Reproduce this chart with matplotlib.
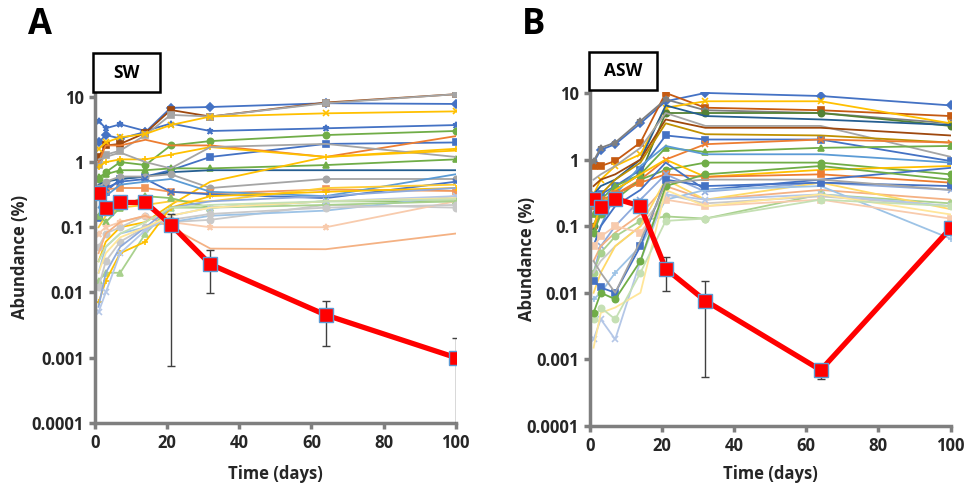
import matplotlib
matplotlib.use("Agg")
import matplotlib.pyplot as plt
from matplotlib.patches import Rectangle
import numpy as np

plt.rcParams['font.family'] = ['Open Sans', 'DejaVu Sans']

# ---------------- data ----------------
times = [1, 3, 7, 14, 21, 32, 64, 100]
x_ticks = [0, 20, 40, 60, 80, 100]
y_ticks = [0.0001, 0.001, 0.01, 0.1, 1, 10]
y_tick_labels = ["0.0001", "0.001", "0.01", "0.1", "1", "10"]

# Panel A (SW) background taxa
sw_series = [
    [4.3, 3.3, 3.8, 3.0, 3.9, 3.0, 3.3, 3.7],
    [2.0, 2.6, 2.3, 2.9, 6.8, 7.0, 8.0, 7.8],
    [1.2, 1.8, 1.9, 2.8, 6.3, 5.0, 8.2, 11.0],
    [0.9, 1.3, 1.5, 2.6, 5.3, 5.0, 8.0, 11.0],
    [1.6, 2.0, 2.4, 2.7, 3.7, 5.0, 5.6, 6.0],
    [0.55, 0.7, 1.0, 0.9, 1.8, 2.1, 2.6, 3.0],
    [0.14, 0.35, 0.55, 0.6, 0.75, 1.2, 1.9, 2.0],
    [1.0, 1.8, 1.8, 2.2, 1.8, 1.8, 1.2, 2.5],
    [0.85, 1.0, 1.1, 1.1, 1.3, 1.7, 1.2, 1.6],
    [0.6, 0.65, 0.75, 0.75, 0.8, 0.8, 0.9, 1.1],
    [1.1, 1.2, 1.4, 1.0, 0.8, 1.7, 1.9, 1.2],
    [0.45, 0.5, 0.55, 0.6, 0.7, 0.75, 0.75, 0.75],
    [0.4, 0.5, 0.6, 0.6, 0.65, 0.4, 0.55, 0.55],
    [0.3, 0.38, 0.4, 0.4, 0.35, 0.33, 0.38, 0.36],
    [0.03, 0.06, 0.1, 0.12, 0.22, 0.5, 1.2, 1.5],
    [0.35, 0.4, 0.5, 0.55, 0.35, 0.32, 0.28, 0.5],
    [0.2, 0.3, 0.45, 0.5, 0.55, 0.35, 0.3, 0.65],
    [0.1, 0.15, 0.2, 0.22, 0.25, 0.25, 0.4, 0.45],
    [0.15, 0.12, 0.2, 0.3, 0.28, 0.2, 0.25, 0.25],
    [0.05, 0.08, 0.1, 0.15, 0.12, 0.13, 0.22, 0.2],
    [0.02, 0.05, 0.08, 0.1, 0.12, 0.15, 0.18, 0.3],
    [0.08, 0.1, 0.12, 0.15, 0.12, 0.1, 0.1, 0.25],
    [0.04, 0.08, 0.12, 0.15, 0.1, 0.047, 0.046, 0.08],
    [0.015, 0.02, 0.02, 0.08, 0.2, 0.2, 0.22, 0.25],
    [0.012, 0.03, 0.06, 0.1, 0.13, 0.16, 0.2, 0.22],
    [0.007, 0.015, 0.04, 0.06, 0.2, 0.3, 0.35, 0.4],
    [0.006, 0.02, 0.05, 0.1, 0.2, 0.25, 0.3, 0.4],
    [0.005, 0.01, 0.04, 0.09, 0.15, 0.2, 0.25, 0.3],
    [0.02, 0.04, 0.07, 0.1, 0.15, 0.2, 0.25, 0.28],
    [0.03, 0.05, 0.08, 0.12, 0.2, 0.22, 0.25, 0.27],
]

# Panel B (ASW) background taxa
asw_series = [
    [0.9, 1.4, 1.7, 3.5, 7.5, 10, 9, 6.5],
    [0.8, 0.8, 0.95, 1.8, 10, 6, 5.5, 4.5],
    [0.95, 1.5, 1.8, 3.8, 8, 5.5, 5.0, 3.5],
    [0.3, 0.5, 0.8, 1.2, 6, 7.5, 7.5, 3.5],
    [0.1, 0.2, 0.35, 0.6, 5, 5, 5, 3.2],
    [0.3, 0.4, 0.5, 1.0, 6.5, 4.5, 4.0, 3.3],
    [0.5, 0.6, 0.8, 1.5, 5, 3.2, 3.2, 1.1],
    [0.4, 0.5, 0.6, 1.0, 4, 3.0, 3.0, 2.3],
    [0.2, 0.3, 0.4, 0.7, 2.3, 2.0, 2.0, 0.95],
    [0.2, 0.3, 0.5, 0.9, 3.5, 2.4, 2.3, 1.8],
    [0.1, 0.15, 0.3, 0.5, 1.0, 1.7, 2.0, 1.8],
    [0.15, 0.25, 0.4, 0.6, 1.5, 1.3, 1.5, 1.6],
    [0.05, 0.1, 0.3, 0.8, 1.6, 1.2, 1.2, 0.9],
    [0.08, 0.15, 0.25, 0.5, 0.7, 0.9, 0.9, 0.6],
    [0.1, 0.2, 0.35, 0.6, 1.0, 0.55, 0.7, 0.8],
    [0.2, 0.25, 0.3, 0.45, 0.6, 0.55, 0.6, 0.45],
    [0.05, 0.1, 0.2, 0.35, 0.9, 0.35, 0.5, 0.75],
    [0.02, 0.05, 0.1, 0.25, 0.6, 0.33, 0.45, 0.35],
    [0.03, 0.05, 0.08, 0.15, 0.4, 0.25, 0.35, 0.25],
    [0.02, 0.04, 0.07, 0.12, 0.14, 0.13, 0.3, 0.22],
    [0.02, 0.03, 0.05, 0.1, 0.3, 0.22, 0.28, 0.2],
    [0.01, 0.02, 0.05, 0.1, 0.5, 0.25, 0.45, 0.18],
    [0.008, 0.01, 0.02, 0.05, 0.25, 0.35, 0.4, 0.065],
    [0.05, 0.07, 0.1, 0.08, 0.25, 0.2, 0.25, 0.13],
    [0.002, 0.004, 0.002, 0.03, 0.3, 0.25, 0.3, 0.2],
    [0.0015, 0.005, 0.006, 0.01, 0.35, 0.2, 0.3, 0.15],
    [0.004, 0.006, 0.004, 0.02, 0.12, 0.13, 0.25, 0.2],
    [0.015, 0.012, 0.01, 0.05, 0.5, 0.4, 0.45, 0.4],
    [0.005, 0.01, 0.008, 0.03, 0.4, 0.6, 0.8, 0.5],
    [0.03, 0.02, 0.01, 0.06, 0.45, 0.5, 0.5, 0.35],
]

# Highlighted taxon (red) with error bars
sw_red = [0.33, 0.2, 0.24, 0.24, 0.11, 0.027, 0.0045, 0.001]
sw_red_lo = [0.33, 0.2, 0.24, 0.24, 0.00075, 0.0097, 0.0015, 0.00005]
sw_red_hi = [0.33, 0.2, 0.24, 0.24, 0.16, 0.044, 0.0074, 0.002]
asw_red = [0.26, 0.195, 0.26, 0.2, 0.023, 0.0076, 0.00069, 0.093]
asw_red_lo = [0.26, 0.195, 0.26, 0.2, 0.0107, 0.00055, 0.00051, 0.093]
asw_red_hi = [0.26, 0.195, 0.26, 0.2, 0.035, 0.015, 0.00069, 0.093]

# ---------------- styles ----------------
sw_styles = [
    ('#4472C4', '*'), ('#4472C4', 'D'), ('#9E480E', 's'), ('#A5A5A5', 's'),
    ('#FFC000', 'x'), ('#70AD47', 'o'), ('#4472C4', 's'), ('#ED7D31', None),
    ('#FFC000', '+'), ('#70AD47', '^'), ('#A5A5A5', None), ('#255E91', None),
    ('#A5A5A5', 'o'), ('#F1975A', 's'), ('#FFC000', None), ('#4472C4', 'x'),
    ('#5B9BD5', None), ('#FFCD33', None), ('#8CC168', '^'), ('#C9C9C9', 'o'),
    ('#9DC3E6', None), ('#F8CBAD', '*'), ('#F4B183', None), ('#A9D18E', '^'),
    ('#C9C9C9', 'o'), ('#FFC000', '+'), ('#8FAADC', None), ('#B4C7E7', 'x'),
    ('#FFE699', None), ('#C5E0B4', None),
]
asw_styles = [
    ('#4472C4', 'D'), ('#C55A11', 's'), ('#7F7F7F', '*'), ('#FFC000', 'x'),
    ('#548235', 'o'), ('#255E91', None), ('#A5A5A5', None), ('#9E480E', None),
    ('#4472C4', 's'), ('#BF9000', None), ('#ED7D31', 'x'), ('#70AD47', '^'),
    ('#5B9BD5', None), ('#70AD47', 'o'), ('#FFC000', None), ('#ED7D31', 's'),
    ('#4472C4', None), ('#8FAADC', 'x'), ('#F4B183', None), ('#A9D18E', 'o'),
    ('#C9C9C9', None), ('#FFD966', None), ('#9DC3E6', '+'), ('#F8CBAD', 's'),
    ('#B4C7E7', 'x'), ('#FFE699', None), ('#C5E0B4', 'o'), ('#4472C4', 's'),
    ('#70AD47', 'o'), ('#A5A5A5', None),
]

fig = plt.figure(figsize=(9.64, 4.86), dpi=100)

panels = [
    dict(rect=[0.0985, 0.1302, 0.3742, 0.681], top=12, series=sw_series,
         styles=sw_styles, red=sw_red, lo=sw_red_lo, hi=sw_red_hi,
         letter='A', lx=0.041, box=(93, 53, 67, 39), label='SW',
         ylab=-0.183, xlab=-0.127),
    dict(rect=[0.612, 0.1235, 0.374, 0.687], top=10.3, series=asw_series,
         styles=asw_styles, red=asw_red, lo=asw_red_lo, hi=asw_red_hi,
         letter='B', lx=0.553, box=(589, 52, 68, 38), label='ASW',
         ylab=-0.150, xlab=-0.117),
]

grey = '#7F7F7F'
for p in panels:
    ax = fig.add_axes(p['rect'])
    ax.set_yscale('log')
    for vals, (c, m) in zip(p['series'], p['styles']):
        ax.plot(times, vals, color=c, lw=1.3, marker=m, ms=4.5, mew=1.2,
                mfc=c, mec=c, zorder=2)
    red = np.array(p['red'])
    yerr = np.array([red - np.array(p['lo']), np.array(p['hi']) - red])
    ax.errorbar(times, red, yerr=yerr, fmt='none', ecolor='#404040',
                elinewidth=1.0, capsize=3, capthick=1.0, zorder=4)
    ax.plot(times, red, color='#FF0000', lw=3.8, marker='s', ms=10,
            mfc='#FF0000', mec='#5B9BD5', mew=1.0, zorder=5)

    ax.set_xlim(0, 100)
    ax.set_ylim(0.0001, p['top'])
    ax.set_xticks(x_ticks)
    ax.set_xticklabels([str(t) for t in x_ticks], fontsize=12,
                       fontweight='bold', color='#262626')
    ax.set_yticks(y_ticks)
    ax.set_yticklabels(y_tick_labels, fontsize=12, fontweight='bold',
                       color='#262626')
    ax.yaxis.set_minor_locator(matplotlib.ticker.NullLocator())
    for s in ['top', 'right']:
        ax.spines[s].set_visible(False)
    for s in ['left', 'bottom']:
        ax.spines[s].set_color(grey)
        ax.spines[s].set_linewidth(2.5)
    ax.tick_params(axis='both', which='major', direction='out', length=4,
                   width=2.5, color=grey, pad=4)
    ax.set_xlabel('Time (days)', fontsize=12, fontweight='bold',
                  color='#262626')
    ax.set_ylabel('Abundance (%)', fontsize=12, fontweight='bold',
                  color='#262626')
    ax.xaxis.set_label_coords(0.5, p['xlab'])
    ax.yaxis.set_label_coords(p['ylab'], 0.5)

    fig.text(p['lx'], 0.948, p['letter'], fontsize=25, fontweight='bold',
             ha='center', va='center')
    bx, by, bw, bh = p['box']
    fig.add_artist(Rectangle((bx / 964, 1 - (by + bh) / 486), bw / 964,
                             bh / 486, transform=fig.transFigure,
                             facecolor='white', edgecolor='black', lw=1.8,
                             zorder=10))
    fig.text((bx + bw / 2) / 964, 1 - (by + bh / 2) / 486, p['label'],
             fontsize=12.5, fontweight='bold', ha='center', va='center',
             zorder=11)

fig.savefig('out.png', dpi=100)
